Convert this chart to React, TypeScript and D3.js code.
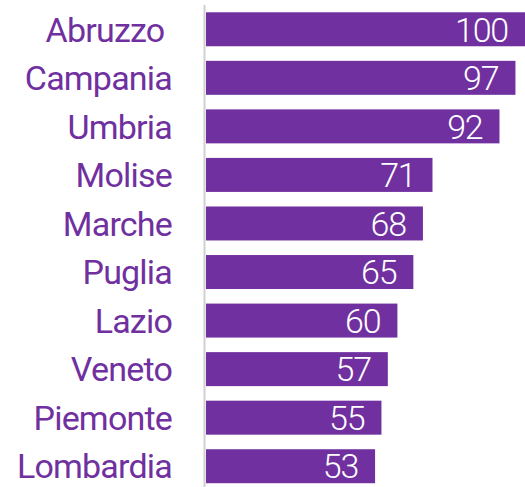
import React from 'react';
import * as d3 from 'd3';

const regions = ['Abruzzo ', 'Campania', 'Umbria', 'Molise', 'Marche', 'Puglia', 'Lazio', 'Veneto', 'Piemonte', 'Lombardia'];
const values = [100, 97, 92, 71, 68, 65, 60, 57, 55, 53];

const W = 525;
const H = 487;
const PURPLE = '#7030A0';

const App = () => {
  const x = d3.scaleLinear().domain([0, 100]).range([206, 525]);
  const y = d3
    .scaleBand<number>()
    .domain(d3.range(regions.length))
    .range([5, 490.5])
    .paddingInner(0.3)
    .paddingOuter(0.15);

  return (
    <svg width={W} height={H} style={{ position: 'absolute', left: 0, top: 0 }}
      fontFamily="Roboto, sans-serif">
      {values.map((v, i) => (
        <g key={i}>
          <rect x={x(0)} y={y(i)} width={x(v) - x(0)} height={y.bandwidth()} fill={PURPLE} />
          <text
            x={x(v) - 17}
            y={(y(i) as number) + y.bandwidth() / 2}
            dy="0.36em"
            textAnchor="end"
            fill="white"
            fontSize="34"
            fontWeight={300}
            letterSpacing="-1.2"
          >
            {v}
          </text>
          <text
            x={172}
            y={(y(i) as number) + y.bandwidth() / 2}
            dy="0.36em"
            textAnchor="end"
            fill={PURPLE}
            fontSize="34"
            letterSpacing="-0.8"
            style={{ whiteSpace: 'pre' }}
          >
            {regions[i]}
          </text>
        </g>
      ))}
      <line x1={204.5} x2={204.5} y1={5} y2={H} stroke="#d0d0d0" strokeWidth={2} />
    </svg>
  );
};

export default App;
